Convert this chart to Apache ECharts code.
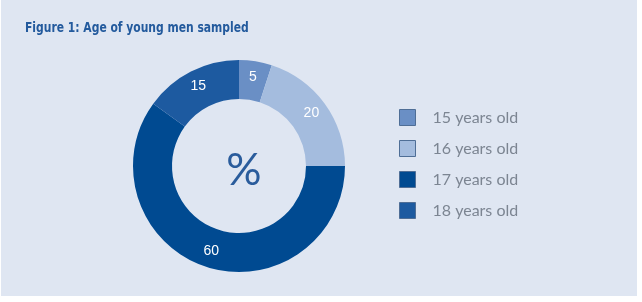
<!DOCTYPE html>
<html style="height: 100%">
<head>
<meta charset="utf-8">
<script src="https://cdn.jsdelivr.net/npm/echarts@6/dist/echarts.min.js"></script>
</head>
<body style="height: 100%; margin: 0; background: #ffffff">
<div id="container" style="position: absolute; left: 1px; top: 0; width: 636px; height: 296px; background: #dfe6f2"></div>
<script type="text/javascript">
var ages = ['15 years old', '16 years old', '17 years old', '18 years old'];
var shares = [5, 20, 60, 15];
var colours = ['#6a8fc5', '#a4bcde', '#004a91', '#1d5aa0'];

var dom = document.getElementById('container');
var myChart = echarts.init(dom);

var option = {
	backgroundColor: 'transparent',
	animation: false,
	// title drawn as graphic so it can be squeezed like the condensed original
	graphic: [{
		type: 'text',
		left: 24,
		top: 21,
		scaleX: 0.855,
		style: {
			text: 'Figure 1: Age of young men sampled',
			font: 'bold 14px "DejaVu Sans Condensed", sans-serif',
			fill: '#235a9d'
		}
	}],
	title: {
		text: '%',
		left: 238,
		top: 166,
		textAlign: 'center',
		textVerticalAlign: 'middle',
		textStyle: {
			fontFamily: 'Lato, sans-serif',
			fontWeight: 'normal',
			fontSize: 44,
			color: '#2a5c9c'
		}
	},
	legend: {
		orient: 'vertical',
		left: 393,
		top: 104,
		itemWidth: 16,
		itemHeight: 16,
		itemGap: 14,
		icon: 'rect',
		textStyle: {
			fontFamily: 'Lato, sans-serif',
			fontSize: 16,
			lineHeight: 16,
			color: '#7c8592',
			padding: [0, 0, 0, 12]
		},
		data: ages.map(function(name) {
			return {
				name: name,
				itemStyle: { borderColor: '#4f6e96', borderWidth: 1 }
			};
		})
	},
	series: [{
		type: 'pie',
		center: [238, 166],
		radius: [67, 106],
		startAngle: 90,
		clockwise: true,
		silent: true,
		label: {
			show: true,
			position: 'inside',
			formatter: '{c}',
			color: '#ffffff',
			fontFamily: 'Liberation Sans, Arial, sans-serif',
			fontSize: 14
		},
		labelLine: { show: false },
		data: ages.map(function(name, i) {
			return {
				name: name,
				value: shares[i],
				itemStyle: { color: colours[i] }
			};
		})
	}]
};
myChart.setOption(option, true);
</script>
</body>
</html>
